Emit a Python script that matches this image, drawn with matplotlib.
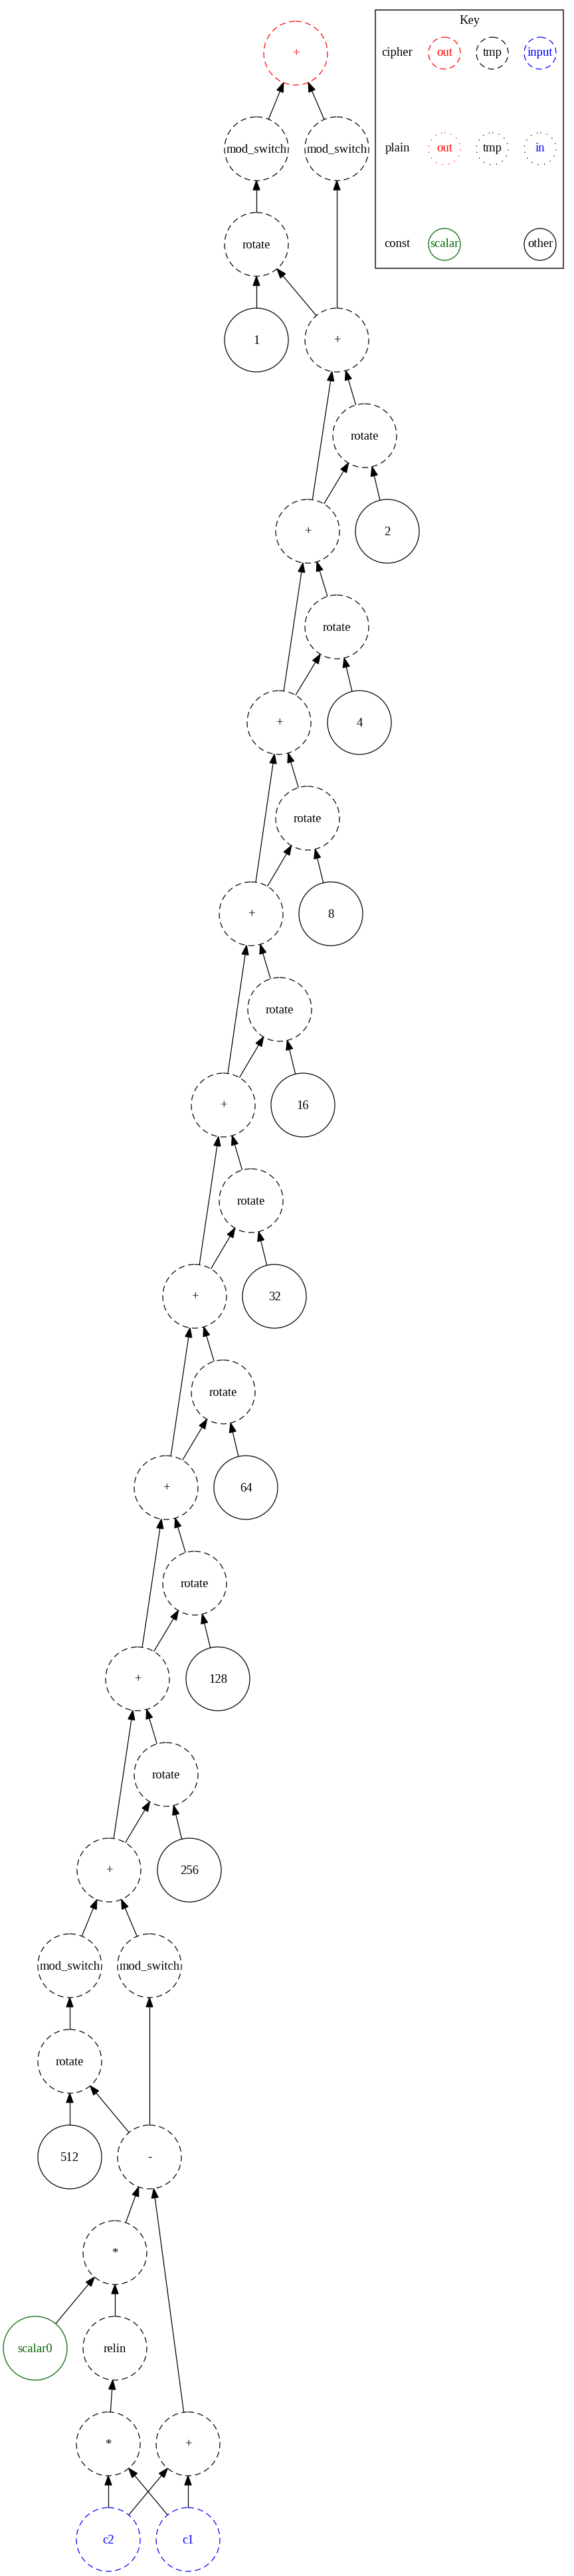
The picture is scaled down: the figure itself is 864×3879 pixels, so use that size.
import matplotlib
matplotlib.use("Agg")
import matplotlib.pyplot as plt
from matplotlib.patches import Ellipse, Polygon, Rectangle
import numpy as np

plt.rcParams["lines.scale_dashes"] = False
plt.rcParams["font.family"] = ["Liberation Serif", "DejaVu Serif"]

# ---------------- data ----------------
node_ids = ["out", "msL", "msR", "rot1", "k1", "add3", "rot2", "add5", "k2",
            "rot4", "add7", "k4", "rot8", "add9", "k8", "rot16", "add11", "k16",
            "rot32", "add13", "k32", "rot64", "add15", "k64", "rot128", "add17", "k128",
            "rot256", "add19", "k256", "msL2", "msR2", "rot512", "k512", "sub",
            "mul2", "scalar0", "relin", "mul1", "add0", "c2", "c1"]
node_labels = ["+", "mod_switch", "mod_switch", "rotate", "1", "+", "rotate", "+", "2",
               "rotate", "+", "4", "rotate", "+", "8", "rotate", "+", "16",
               "rotate", "+", "32", "rotate", "+", "64", "rotate", "+", "128",
               "rotate", "+", "256", "mod_switch", "mod_switch", "rotate", "512", "-",
               "*", "scalar0", "relin", "*", "+", "c2", "c1"]
node_kinds = ["out", "tmp", "tmp", "tmp", "const", "tmp", "tmp", "tmp", "const",
              "tmp", "tmp", "const", "tmp", "tmp", "const", "tmp", "tmp", "const",
              "tmp", "tmp", "const", "tmp", "tmp", "const", "tmp", "tmp", "const",
              "tmp", "tmp", "const", "tmp", "tmp", "tmp", "const", "tmp",
              "tmp", "scalar", "tmp", "tmp", "tmp", "input", "input"]
node_rank = [0, 1, 1, 2, 3, 3, 4, 5, 5,
             6, 7, 7, 8, 9, 9, 10, 11, 11,
             12, 13, 13, 14, 15, 15, 16, 17, 17,
             18, 19, 19, 20, 20, 21, 22, 22,
             23, 24, 24, 25, 25, 26, 26]
node_x = [445, 386, 507, 386, 386, 507, 549, 463, 583,
          507, 420, 541, 463, 378, 498, 421, 336, 456,
          378, 293, 413, 336, 250, 370, 293, 207, 328,
          250, 164, 285, 105, 225, 105, 105, 225,
          173, 53, 173, 163, 283, 163, 283]

# edges: (tail/source below, head/target above)
edges = [("msL", "out"), ("msR", "out"), ("rot1", "msL"), ("add3", "msR"),
         ("k1", "rot1"), ("add3", "rot1"),
         ("rot2", "add3"), ("add5", "add3"), ("add5", "rot2"), ("k2", "rot2"),
         ("rot4", "add5"), ("add7", "add5"), ("add7", "rot4"), ("k4", "rot4"),
         ("rot8", "add7"), ("add9", "add7"), ("add9", "rot8"), ("k8", "rot8"),
         ("rot16", "add9"), ("add11", "add9"), ("add11", "rot16"), ("k16", "rot16"),
         ("rot32", "add11"), ("add13", "add11"), ("add13", "rot32"), ("k32", "rot32"),
         ("rot64", "add13"), ("add15", "add13"), ("add15", "rot64"), ("k64", "rot64"),
         ("rot128", "add15"), ("add17", "add15"), ("add17", "rot128"), ("k128", "rot128"),
         ("rot256", "add17"), ("add19", "add17"), ("add19", "rot256"), ("k256", "rot256"),
         ("msL2", "add19"), ("msR2", "add19"), ("rot512", "msL2"), ("sub", "msR2"),
         ("k512", "rot512"), ("sub", "rot512"),
         ("mul2", "sub"), ("add0", "sub"),
         ("scalar0", "mul2"), ("relin", "mul2"), ("mul1", "relin"),
         ("c2", "mul1"), ("c1", "mul1"), ("c2", "add0"), ("c1", "add0")]

# legend (key) contents
key_rows = ["cipher", "plain", "const"]
key_items = [("cipher", "out", "out"), ("cipher", "tmp", "tmp"), ("cipher", "input", "input"),
             ("plain", "out", "pout"), ("plain", "tmp", "ptmp"), ("plain", "in", "pin"),
             ("const", "scalar", "scalar"), ("const", "other", "const")]

# ---------------- styles ----------------
DASH = (0, (6.5, 4.0))
DOT = (0, (1.0, 6.0))
styles = {
    "out":    dict(ec="#ff0000", tc="#ff0000", ls=DASH),
    "tmp":    dict(ec="black", tc="black", ls=DASH),
    "input":  dict(ec="#0000ff", tc="#0000ff", ls=DASH),
    "const":  dict(ec="black", tc="black", ls="solid"),
    "scalar": dict(ec="#006400", tc="#006400", ls="solid"),
    "pout":   dict(ec="#ff0000", tc="#ff0000", ls=DOT),
    "ptmp":   dict(ec="black", tc="black", ls=DOT),
    "pin":    dict(ec="black", tc="#0000ff", ls=DOT),
}

W, H = 864, 3879
Y0, RANKSEP = 80, 144
R = 48          # node radius (px)
FS = 13.4       # font size (pt)
LW = 0.9

fig = plt.figure(figsize=(W / 100, H / 100), dpi=100)
ax = fig.add_axes([0, 0, 1, 1])
ax.set_xlim(0, W)
ax.set_ylim(H, 0)
ax.axis("off")

pos = {}
for nid, lab, kind, rk, x in zip(node_ids, node_labels, node_kinds, node_rank, node_x):
    y = Y0 + RANKSEP * rk
    pos[nid] = np.array([x, y], dtype=float)
    st = styles[kind]
    ax.add_patch(Ellipse((x, y), 2 * R, 2 * R, fill=False, ec=st["ec"],
                         lw=LW, linestyle=st["ls"]))
    ax.text(x, y + 1, lab, ha="center", va="center", color=st["tc"], fontsize=FS)

AL, AW = 14.0, 5.0
for s, t in edges:
    p0, p1 = pos[s], pos[t]
    d = p1 - p0
    u = d / np.linalg.norm(d)
    perp = np.array([-u[1], u[0]])
    tail = p0 + R * u
    tip = p1 - R * u
    base = tip - AL * u
    ax.plot([tail[0], base[0]], [tail[1], base[1]], color="black", lw=LW,
            solid_capstyle="butt")
    ax.add_patch(Polygon([tip, base + AW * perp, base - AW * perp], closed=True,
                         fc="black", ec="black", lw=LW))

# ---------------- key ----------------
KX0, KY0, KX1, KY1 = 565, 15, 848, 404
ax.add_patch(Rectangle((KX0, KY0), KX1 - KX0, KY1 - KY0, fill=False,
                       ec="#444444", lw=1.4))
ax.text((KX0 + KX1) / 2, 31, "Key", ha="center", va="center", fontsize=FS)
row_y = {r: Y0 + RANKSEP * i for i, r in enumerate(key_rows)}
for r in key_rows:
    ax.text(598, row_y[r], r, ha="center", va="center", fontsize=FS)
col_x = [669, 741, 813]
KR = 24
col_of = {}
for row, lab, kind in key_items:
    idx = col_of.get(row, 0)
    if row == "const" and lab == "other":
        idx = 2
    col_of[row] = idx + 1
    x, y = col_x[idx], row_y[row]
    st = styles[kind]
    ax.add_patch(Ellipse((x, y), 2 * KR, 2 * KR, fill=False, ec=st["ec"],
                         lw=LW, linestyle=st["ls"]))
    ax.text(x, y, lab, ha="center", va="center", color=st["tc"], fontsize=FS)

fig.savefig("out.png", dpi=100, facecolor="white")
